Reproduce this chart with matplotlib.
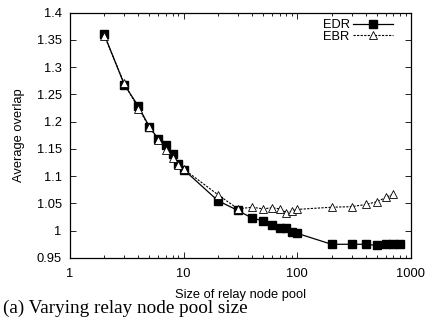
import matplotlib
matplotlib.use("Agg")
import matplotlib.pyplot as plt
from matplotlib.ticker import LogLocator, NullFormatter, FixedLocator

# pool sizes on the x axis
pool_size = [2, 3, 4, 5, 6, 7, 8, 9, 10, 20, 30, 40, 50, 60, 70, 80, 90, 100,
             200, 300, 400, 500, 600, 700, 800]

edr = [1.360, 1.268, 1.228, 1.190, 1.168, 1.157, 1.141, 1.123, 1.112, 1.055,
       1.037, 1.023, 1.018, 1.011, 1.004, 1.004, 0.997, 0.995,
       0.975, 0.975, 0.975, 0.973, 0.975, 0.976, 0.976]

ebr_x = [2, 3, 4, 5, 6, 7, 8, 9, 10, 20, 30, 40, 50, 60, 70, 80, 90, 100,
         200, 300, 400, 500, 600, 700]
ebr = [1.358, 1.270, 1.224, 1.190, 1.166, 1.148, 1.133, 1.121, 1.113, 1.066,
       1.040, 1.043, 1.040, 1.042, 1.040, 1.033, 1.036, 1.039,
       1.043, 1.044, 1.048, 1.053, 1.061, 1.067]

yticks = [0.95, 1, 1.05, 1.1, 1.15, 1.2, 1.25, 1.3, 1.35, 1.4]
ytick_labels = ["0.95", "1", "1.05", "1.1", "1.15", "1.2", "1.25", "1.3", "1.35", "1.4"]

plt.rcParams["font.family"] = ["Liberation Sans", "DejaVu Sans"]
fs = 9.3

fig = plt.figure(figsize=(4.27, 3.24), dpi=100)
ax = fig.add_axes([0.164, 0.204, 0.7985, 0.757])

ax.plot(pool_size, edr, color="black", lw=0.9, marker="s", ms=6.2,
        mfc="black", mec="black", label="EDR")
ax.plot(ebr_x, ebr, color="black", lw=0.8, ls=(0, (2, 1.2)), marker="^", ms=5.5,
        mfc="white", mec="black", mew=0.6, label="EBR")

ax.set_xscale("log")
ax.set_xlim(1, 1000)
ax.set_ylim(0.95, 1.4)
ax.set_xticks([1, 10, 100, 1000])
ax.set_xticklabels(["1", "10", "100", "1000"])
ax.xaxis.set_minor_locator(LogLocator(base=10, subs=range(2, 10)))
ax.xaxis.set_minor_formatter(NullFormatter())
ax.yaxis.set_major_locator(FixedLocator(yticks))
ax.set_yticklabels(ytick_labels)

ax.tick_params(which="both", direction="in", top=True, right=True,
               labelsize=fs)
ax.tick_params(axis="y", pad=6)
ax.tick_params(axis="x", pad=7)
ax.tick_params(which="major", length=4, width=0.6)
ax.tick_params(which="minor", length=2, width=0.6)
for s in ax.spines.values():
    s.set_linewidth(0.9)

ax.set_xlabel("Size of relay node pool", fontsize=fs, labelpad=7)
ax.set_ylabel("Average overlap", fontsize=fs, labelpad=8)

ax.legend(loc="upper right", bbox_to_anchor=(0.975, 1.01), frameon=False,
          markerfirst=False, fontsize=fs, handlelength=3.1, handletextpad=0.3,
          labelspacing=-0.05, borderaxespad=0.3)

fig.text(0.007, 0.049, "(a) Varying relay node pool size", va="center",
         family=["Liberation Serif", "DejaVu Serif"], fontsize=13.8)

fig.savefig("out.png", dpi=100)
